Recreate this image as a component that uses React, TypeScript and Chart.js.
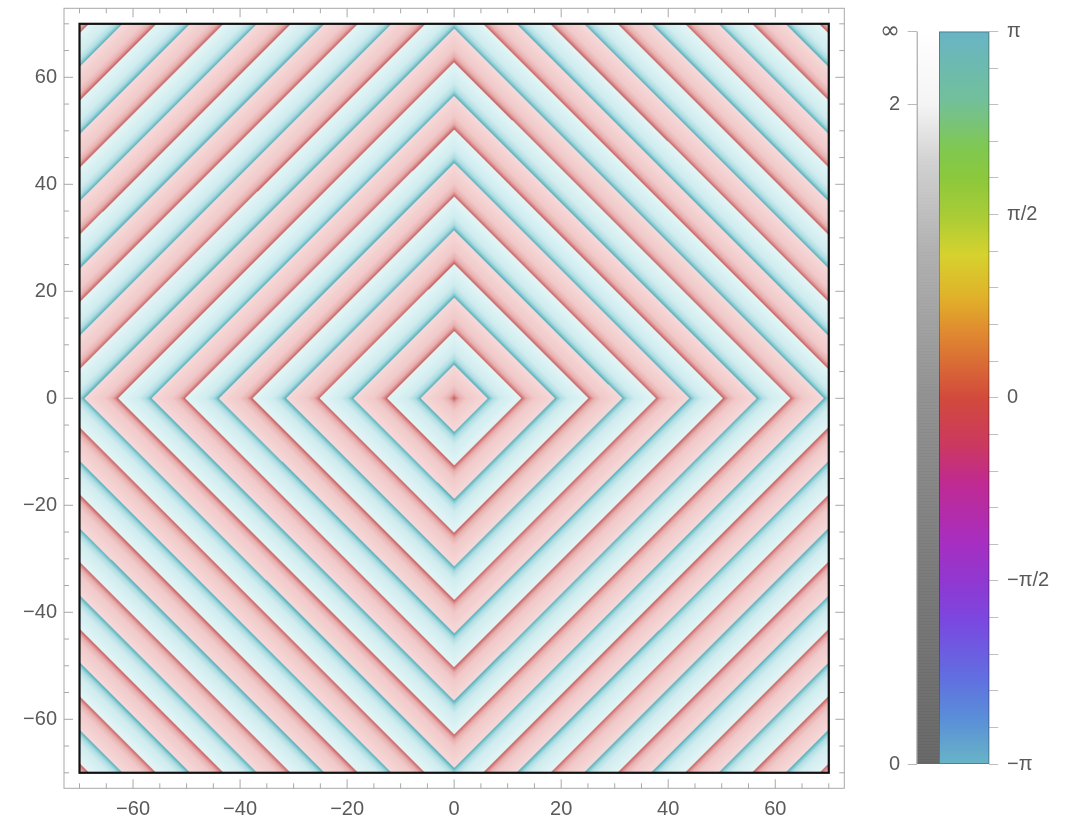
import React, { useEffect, useRef } from 'react';
import { Chart, registerables } from 'chart.js';

Chart.register(...registerables);

// ---------- data ----------
const plotRange = [-70, 70];
const frameRange = [-72.9, 72.9];
const majorTicks = [-60, -40, -20, 0, 20, 40, 60];
const minorTicks = [-70, -65, -60, -55, -50, -45, -40, -35, -30, -25, -20, -15, -10, -5, 0, 5, 10, 15, 20, 25, 30, 35, 40, 45, 50, 55, 60, 65, 70];

// boundaries of the diamond bands, measured along |x|+|y|
const bandRadii = [0, 6.28, 12.57, 18.85, 25.13, 31.42, 37.7, 43.98, 50.27, 56.55, 62.83, 69.12, 75.4, 81.68, 87.96, 94.25, 100.53, 106.81, 113.1, 119.38, 125.66, 131.95, 138.23, 144.51];
// phase (arg) of each band: 0 = red hue, 3.14 = cyan hue
const bandPhase = [0, 3.14, 0, 3.14, 0, 3.14, 0, 3.14, 0, 3.14, 0, 3.14, 0, 3.14, 0, 3.14, 0, 3.14, 0, 3.14, 0, 3.14, 0];
// magnitude shading across a band (inner edge dark -> outer edge light)
const profileT = [0, 0.07, 0.18, 0.4, 1];
const redProfile = ['#c05454', '#d88282', '#e8b0b0', '#f1c9c9', '#f6d9d9'];
const cyanProfile = ['#46a6b3', '#7ec5ce', '#b0dee3', '#d0ecef', '#e3f5f6'];

// colour bar
const magTickPos = [0, 0.9, 1];
const magTickLabels = ['0', '2', '∞'];
const magStops = [0, 0.25, 0.5, 0.7, 0.82, 0.9, 1];
const magColors = ['#646464', '#777777', '#8f8f8f', '#afafaf', '#d0d0d0', '#f4f4f4', '#ffffff'];
const phaseTicksPi = [-1, -0.9, -0.8, -0.7, -0.6, -0.5, -0.4, -0.3, -0.2, -0.1, 0, 0.1, 0.2, 0.3, 0.4, 0.5, 0.6, 0.7, 0.8, 0.9, 1];
const phaseLabelPi = [-1, -0.5, 0, 0.5, 1];
const phaseLabels = ['−π', '−π/2', '0', 'π/2', 'π'];
const hueStopsPi = [-1, -0.88, -0.77, -0.61, -0.5, -0.39, -0.23, -0.12, 0, 0.18, 0.27, 0.39, 0.5, 0.6, 0.68, 0.81, 1];
const hueColors = ['#68b4c6', '#5a90d8', '#6070e0', '#7a48e0', '#9038d0', '#a82ec0', '#c02a90', '#cc3a5c', '#d24a3c', '#e08a30', '#e0b02a', '#d6d22e', '#a8cc36', '#8cc83c', '#80c850', '#72c09a', '#68b4c6'];
const magBarX = [0, 22.3];
const phaseBarX = [22.3, 72.6];

// ---------- helpers ----------
const FONT = "'Liberation Sans', Arial, sans-serif";
const LABEL_COLOR = '#5a5a5a';
const FRAME_COLOR = '#a8a8a8';

function hexToRgb(h: string) {
  const n = parseInt(h.slice(1), 16);
  return [(n >> 16) & 255, (n >> 8) & 255, n & 255];
}
const redRgb = redProfile.map(hexToRgb);
const cyanRgb = cyanProfile.map(hexToRgb);

function shade(t: number, pal: number[][]) {
  for (let i = 1; i < profileT.length; i++) {
    if (t <= profileT[i]) {
      const f = (t - profileT[i - 1]) / (profileT[i] - profileT[i - 1]);
      const a = pal[i - 1], b = pal[i];
      return [a[0] + (b[0] - a[0]) * f, a[1] + (b[1] - a[1]) * f, a[2] + (b[2] - a[2]) * f];
    }
  }
  return pal[pal.length - 1];
}

function colorAt(x: number, y: number) {
  const r = Math.abs(x) + Math.abs(y);
  let k = 0;
  while (k < bandRadii.length - 2 && r >= bandRadii[k + 1]) k++;
  const t = Math.min(1, Math.max(0, (r - bandRadii[k]) / (bandRadii[k + 1] - bandRadii[k])));
  const pal = Math.abs(bandPhase[k]) < 1.57 ? redRgb : cyanRgb;
  return shade(t, pal);
}

function fmt(v: number) {
  return v < 0 ? '−' + Math.abs(v) : String(v);
}

const SUB = [-0.5, 0, 0.5];

const heatmapPlugin = {
  id: 'heatmap',
  beforeDatasetsDraw(chart: any) {
    const xs = chart.scales.x, ys = chart.scales.y;
    const ctx = chart.ctx;
    const left = Math.round(xs.getPixelForValue(plotRange[0]));
    const right = Math.round(xs.getPixelForValue(plotRange[1]));
    const top = Math.round(ys.getPixelForValue(plotRange[1]));
    const bottom = Math.round(ys.getPixelForValue(plotRange[0]));
    const w = right - left, h = bottom - top;
    const img = ctx.createImageData(w, h);
    const d = img.data;
    const xv: number[][] = [];
    for (let i = 0; i < w; i++) xv.push(SUB.map((s) => xs.getValueForPixel(left + i + 0.5 + s)));
    const n = SUB.length * SUB.length;
    for (let j = 0; j < h; j++) {
      const yv = SUB.map((s) => ys.getValueForPixel(top + j + 0.5 + s));
      for (let i = 0; i < w; i++) {
        let R = 0, G = 0, B = 0;
        for (const yy of yv) {
          for (const xx of xv[i]) {
            const c = colorAt(xx, yy);
            R += c[0]; G += c[1]; B += c[2];
          }
        }
        const o = (j * w + i) * 4;
        d[o] = R / n; d[o + 1] = G / n; d[o + 2] = B / n; d[o + 3] = 255;
      }
    }
    ctx.putImageData(img, left, top);
  },
  afterDraw(chart: any) {
    const xs = chart.scales.x, ys = chart.scales.y;
    const ctx = chart.ctx;
    const a = chart.chartArea;
    ctx.save();
    // outer frame
    ctx.strokeStyle = FRAME_COLOR;
    ctx.lineWidth = 1;
    ctx.strokeRect(a.left, a.top, a.right - a.left, a.bottom - a.top);
    // ticks pointing inward on all sides
    ctx.beginPath();
    minorTicks.forEach((v) => {
      const len = majorTicks.includes(v) ? 9 : 5;
      const px = xs.getPixelForValue(v);
      ctx.moveTo(px, a.bottom); ctx.lineTo(px, a.bottom - len);
      ctx.moveTo(px, a.top); ctx.lineTo(px, a.top + len);
      const py = ys.getPixelForValue(v);
      ctx.moveTo(a.left, py); ctx.lineTo(a.left + len, py);
      ctx.moveTo(a.right, py); ctx.lineTo(a.right - len, py);
    });
    ctx.stroke();
    // black border of plot region
    const l = xs.getPixelForValue(plotRange[0]);
    const r = xs.getPixelForValue(plotRange[1]);
    const t = ys.getPixelForValue(plotRange[1]);
    const b = ys.getPixelForValue(plotRange[0]);
    ctx.strokeStyle = '#111';
    ctx.lineWidth = 2.2;
    ctx.strokeRect(l, t, r - l, b - t);
    ctx.restore();
  },
};

const colorbarPlugin = {
  id: 'colorbar',
  afterDraw(chart: any) {
    const ctx = chart.ctx;
    const xs = chart.scales.x, ym = chart.scales.y, yp = chart.scales.y2;
    ctx.save();
    // magnitude bar
    const mx0 = xs.getPixelForValue(magBarX[0]);
    const mx1 = xs.getPixelForValue(magBarX[1]);
    const mTop = ym.getPixelForValue(1), mBot = ym.getPixelForValue(0);
    const g = ctx.createLinearGradient(0, mBot, 0, mTop);
    magStops.forEach((s, i) => g.addColorStop(s, magColors[i]));
    ctx.fillStyle = g;
    ctx.fillRect(mx0, mTop, mx1 - mx0, mBot - mTop);
    // faint horizontal banding
    ctx.fillStyle = 'rgba(255,255,255,0.07)';
    for (let yy = mTop; yy < mBot; yy += 3) ctx.fillRect(mx0, yy, mx1 - mx0, 1);
    ctx.strokeStyle = '#9a9a9a';
    ctx.lineWidth = 1;
    ctx.beginPath();
    ctx.moveTo(mx0 + 0.5, mTop); ctx.lineTo(mx0 + 0.5, mBot);
    ctx.stroke();
    // phase bar
    const px0 = xs.getPixelForValue(phaseBarX[0]);
    const px1 = xs.getPixelForValue(phaseBarX[1]);
    const pTop = yp.getPixelForValue(Math.PI), pBot = yp.getPixelForValue(-Math.PI);
    const g2 = ctx.createLinearGradient(0, pBot, 0, pTop);
    hueStopsPi.forEach((s, i) => g2.addColorStop((s + 1) / 2, hueColors[i]));
    ctx.fillStyle = g2;
    ctx.fillRect(px0, pTop, px1 - px0, pBot - pTop);
    ctx.strokeStyle = 'rgba(0,0,0,0.28)';
    ctx.strokeRect(px0 + 0.5, pTop + 0.5, px1 - px0 - 1, pBot - pTop - 1);
    ctx.restore();
  },
};

function noPad(s: any) {
  s.paddingTop = 0; s.paddingBottom = 0; s.paddingLeft = 0; s.paddingRight = 0;
}

export default function App() {
  const mainRef = useRef<HTMLCanvasElement>(null);
  const barRef = useRef<HTMLCanvasElement>(null);

  useEffect(() => {
    const tickFont = { family: FONT, size: 20 };
    const main = new Chart(mainRef.current as HTMLCanvasElement, {
      type: 'scatter',
      data: { datasets: [] },
      options: {
        animation: false,
        responsive: false,
        devicePixelRatio: 1,
        layout: { padding: { left: 0, top: 8.3, right: 15.7, bottom: 0 } },
        plugins: { legend: { display: false }, tooltip: { enabled: false } },
        scales: {
          x: {
            type: 'linear',
            min: frameRange[0],
            max: frameRange[1],
            grid: { display: false, drawTicks: false },
            border: { display: false },
            afterBuildTicks: (s: any) => { s.ticks = minorTicks.map((v) => ({ value: v })); },
            afterFit: (s: any) => { s.height = 31.7; noPad(s); },
            ticks: {
              autoSkip: false, maxRotation: 0, minRotation: 0, padding: 9,
              color: LABEL_COLOR, font: tickFont,
              callback: (v: any) => (majorTicks.includes(Number(v)) ? fmt(Number(v)) : ''),
            },
          },
          y: {
            type: 'linear',
            min: frameRange[0],
            max: frameRange[1],
            grid: { display: false, drawTicks: false },
            border: { display: false },
            afterBuildTicks: (s: any) => { s.ticks = minorTicks.map((v) => ({ value: v })); },
            afterFit: (s: any) => { s.width = 64; noPad(s); },
            ticks: {
              autoSkip: false, padding: 7,
              color: LABEL_COLOR, font: tickFont,
              callback: (v: any) => (majorTicks.includes(Number(v)) ? fmt(Number(v)) : ''),
            },
          },
        },
      },
      plugins: [heatmapPlugin],
    } as any);

    const bar = new Chart(barRef.current as HTMLCanvasElement, {
      type: 'scatter',
      data: { datasets: [] },
      options: {
        animation: false,
        responsive: false,
        devicePixelRatio: 1,
        layout: { padding: { left: 0, top: 31.5, right: 0, bottom: 56 } },
        plugins: { legend: { display: false }, tooltip: { enabled: false } },
        scales: {
          x: { type: 'linear', min: magBarX[0], max: phaseBarX[1], display: false },
          y: {
            type: 'linear', position: 'left', min: 0, max: 1,
            grid: { display: true, drawOnChartArea: false, drawTicks: true, tickLength: 9, color: '#b8b8b8' },
            border: { display: false },
            afterBuildTicks: (s: any) => { s.ticks = magTickPos.map((v) => ({ value: v })); },
            afterFit: (s: any) => { s.width = 56.7; noPad(s); },
            ticks: {
              autoSkip: false, padding: 7.7, color: LABEL_COLOR,
              font: (c: any) => (c.tick && c.tick.value === 1
                ? { family: "'DejaVu Sans', sans-serif", size: 24 }
                : tickFont),
              callback: (v: any) => {
                const i = magTickPos.indexOf(Number(v));
                return i >= 0 ? magTickLabels[i] : '';
              },
            },
          },
          y2: {
            type: 'linear', position: 'right', min: -Math.PI, max: Math.PI,
            grid: { display: true, drawOnChartArea: false, drawTicks: true, tickLength: 9, color: '#c0c0c0' },
            border: { display: false },
            afterBuildTicks: (s: any) => { s.ticks = phaseTicksPi.map((v) => ({ value: v * Math.PI })); },
            afterFit: (s: any) => { s.width = 80.7; noPad(s); },
            ticks: {
              autoSkip: false, padding: 8.7, color: LABEL_COLOR, font: tickFont,
              callback: (v: any) => {
                const f = Number(v) / Math.PI;
                const i = phaseLabelPi.findIndex((p) => Math.abs(p - f) < 1e-6);
                return i >= 0 ? phaseLabels[i] : '';
              },
            },
          },
        },
      },
      plugins: [colorbarPlugin],
    } as any);

    return () => {
      main.destroy();
      bar.destroy();
    };
  }, []);

  return (
    <div style={{ position: 'absolute', left: 0, top: 0, width: 1070, height: 820, background: '#fff' }}>
      <canvas ref={mainRef} width={860} height={820} style={{ position: 'absolute', left: 0, top: 0, width: 860, height: 820 }} />
      <canvas ref={barRef} width={210} height={820} style={{ position: 'absolute', left: 860, top: 0, width: 210, height: 820 }} />
    </div>
  );
}
